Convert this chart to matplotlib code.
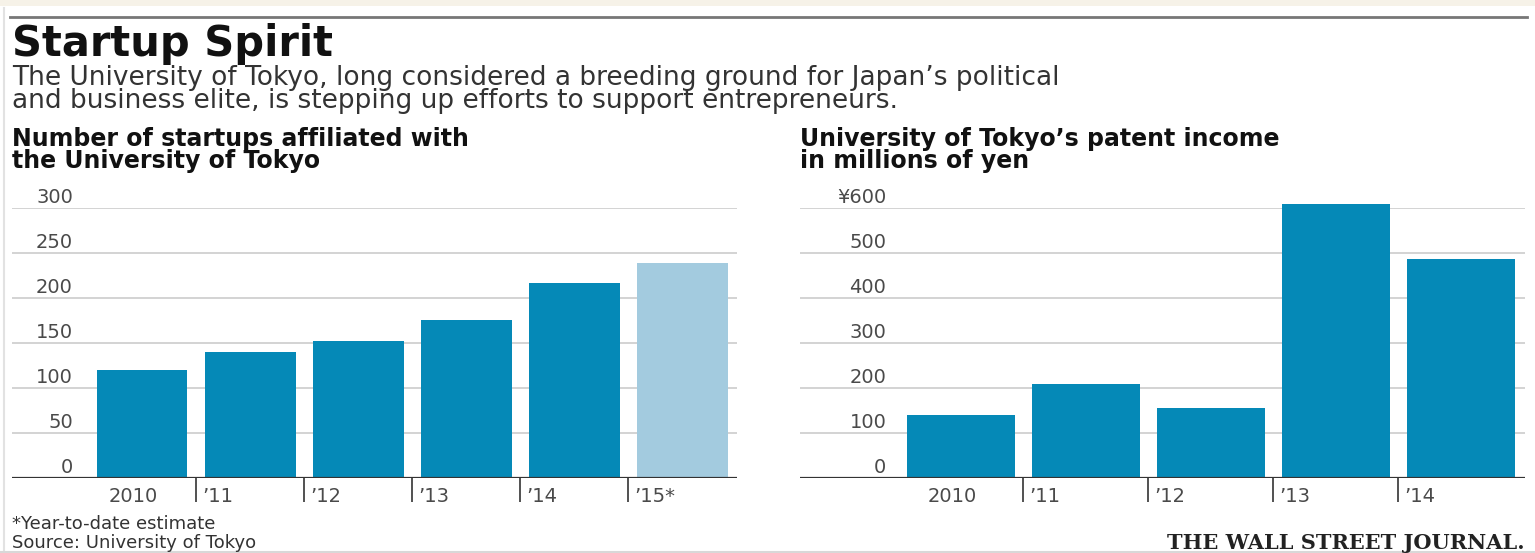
import numpy as np
import matplotlib.pyplot as plt
from matplotlib.lines import Line2D
from matplotlib.patches import Rectangle

# data
years_left = ['2010', '\u201911', '\u201912', '\u201913', '\u201914', '\u201915*']
startups = [120, 140, 152, 176, 217, 239]
left_ticks = [0, 50, 100, 150, 200, 250, 300]
left_ticklabels = ['0', '50', '100', '150', '200', '250', '300']

years_right = ['2010', '\u201911', '\u201912', '\u201913', '\u201914']
patent_income = [140, 209, 156, 609, 486]
right_ticks = [0, 100, 200, 300, 400, 500, 600]
right_ticklabels = ['0', '100', '200', '300', '400', '500', '\u00a5600']

W, H = 1535, 553
BLUE = '#0589b7'
LIGHT = '#a3cbdf'
GRID = '#cccccc'
TXT = '#4a4a4a'


def fx(px):
    return px / W


def fy(py):
    return 1 - py / H


def bar_panel(ax, labels, values, ymax, ticks, ticklabels, colors, width,
              xlim, label_x):
    x = np.arange(len(values))
    for t in ticks[1:]:
        ax.axhline(t, color=GRID, lw=1.2, zorder=0)
    ax.bar(x, values, width=width, color=colors, zorder=2, clip_on=False)
    ax.axhline(0, color='#333333', lw=1.6, zorder=3)
    ax.set_xlim(*xlim)
    ax.set_ylim(0, ymax)
    for s in ax.spines.values():
        s.set_visible(False)
    ax.set_yticks([])
    ax.set_xticks(x[1:] - 0.5)
    ax.set_xticklabels([])
    ax.tick_params(axis='x', direction='out', length=17, width=1.2,
                   color='#333333')
    # y labels sit just above their gridlines
    for t, lab in zip(ticks, ticklabels):
        ax.annotate(lab, xy=(label_x, t), xycoords=ax.get_yaxis_transform(),
                    xytext=(0, 5), textcoords='offset pixels',
                    ha='right', va='baseline', fontsize=14, color=TXT)
    # x labels: first centred under bar, the rest right of each tick
    ax.annotate(labels[0], xy=(0, 0), xycoords='data', xytext=(-9, -24),
                textcoords='offset pixels', ha='center', va='baseline',
                fontsize=14, color=TXT)
    for i, lab in enumerate(labels[1:], start=1):
        ax.annotate(lab, xy=(i - 0.5, 0), xycoords='data', xytext=(6, -24),
                    textcoords='offset pixels', ha='left', va='baseline',
                    fontsize=14, color=TXT)


fig = plt.figure(figsize=(W / 100, H / 100), dpi=100)
fig.patch.set_facecolor('white')

# frame bits: beige strip on top, rule line, faint edges
fig.add_artist(Rectangle((0, fy(6)), 1, fy(0) - fy(6), transform=fig.transFigure,
                         color='#f6f2e8', lw=0))
fig.add_artist(Line2D([fx(10), fx(1527)], [fy(17), fy(17)], color='#777777',
                      lw=2, transform=fig.transFigure))
fig.add_artist(Line2D([fx(4), fx(4)], [fy(8), fy(553)], color='#e2e2e2',
                      lw=1.5, transform=fig.transFigure))
fig.add_artist(Line2D([0, 1], [fy(552), fy(552)], color='#d8d8d8',
                      lw=1.5, transform=fig.transFigure))

fig.text(fx(12), fy(56), 'Startup Spirit', fontsize=30, fontweight='bold',
         color='#111111', va='baseline')
fig.text(fx(12), fy(108), 'The University of Tokyo, long considered a breeding '
         'ground for Japan\u2019s political\nand business elite, is stepping up '
         'efforts to support entrepreneurs.', fontsize=19, color='#333333',
         va='baseline', linespacing=0.86)

fig.text(fx(12), fy(168), 'Number of startups affiliated with\n'
         'the University of Tokyo', fontsize=17, fontweight='bold',
         color='#111111', va='baseline', linespacing=0.92)
fig.text(fx(800), fy(168), 'University of Tokyo\u2019s patent income\n'
         'in millions of yen', fontsize=17, fontweight='bold',
         color='#111111', va='baseline', linespacing=0.92)

# left panel: x 12..737 px, y 208..478 px
ax1 = fig.add_axes([fx(12), fy(478), fx(737) - fx(12), fy(208) - fy(478)])
ax1.patch.set_alpha(0)
colors_left = [BLUE] * (len(startups) - 1) + [LIGHT]
bar_panel(ax1, years_left, startups, 300, left_ticks, left_ticklabels,
          colors_left, 0.84, (-1.203, 5.504), 0.084)

# right panel: x 800..1525 px
ax2 = fig.add_axes([fx(800), fy(478), fx(1525) - fx(800), fy(208) - fy(478)])
ax2.patch.set_alpha(0)
bar_panel(ax2, years_right, patent_income, 600, right_ticks,
          right_ticklabels, [BLUE] * len(patent_income), 0.865,
          (-1.289, 4.516), 0.119)

fig.text(fx(12), fy(548), '*Year-to-date estimate\nSource: University of Tokyo',
         fontsize=13, color='#333333', va='baseline', linespacing=1.1)
fig.text(fx(1525), fy(549), 'THE WALL STREET JOURNAL.', fontsize=15,
         fontweight='bold', family='DejaVu Serif', color='#222222',
         ha='right', va='baseline')

fig.savefig('out.png', dpi=100, facecolor='white')
